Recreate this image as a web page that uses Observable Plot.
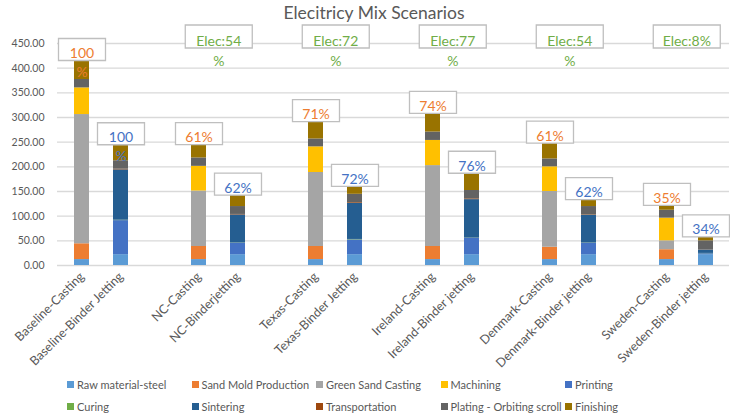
<!DOCTYPE html>
<html>
<head>
<meta charset="utf-8">
<script src="https://cdn.jsdelivr.net/npm/d3@7"></script>
<script src="https://cdn.jsdelivr.net/npm/@observablehq/plot@0.6"></script>
<style>
  body { margin: 0; background: #fff; font-family: Lato, sans-serif; }
  #chart { position: relative; width: 730px; height: 415px; }
  #title { position: absolute; top: 2px; left: 0; width: 748px; text-align: center;
           font-size: 17.5px; color: #595959; }
  .legend-item { position: absolute; display: flex; align-items: center; height: 14px;
                 margin-top: -7px; font-size: 11px; color: #595959; white-space: nowrap; }
  .legend-item .sw { width: 7px; height: 7px; margin-right: 3px; flex: none; }
</style>
</head>
<body>
<div id="chart"><div id="title">Elecitricy Mix Scenarios</div></div>
<script>
// Scenario pairs: a casting route and a binder-jetting route per electricity mix
const categories = [
  "Baseline-Casting", "Baseline-Binder Jetting",
  "NC-Casting", "NC-Binderjetting",
  "Texas-Casting", "Texas-Binder Jetting",
  "Ireland-Casting", "Ireland-Binder jetting",
  "Denmark-Casting", "Denmark-Binder jetting",
  "Sweden-Casting", "Sweden-Binder jetting"
];

const series = [
  "Raw material-steel", "Sand Mold Production", "Green Sand Casting", "Machining", "Printing",
  "Curing", "Sintering", "Transportation", "Plating - Orbiting scroll", "Finishing"
];
const seriesColors = [
  "#5B9BD5", "#ED7D31", "#A5A5A5", "#FFC000", "#4472C4",
  "#70AD47", "#255E91", "#9E480E", "#636363", "#997300"
];

// One value per category, in category order
const rawMaterialSteel   = [12, 22, 12, 22, 12, 22, 12, 22, 12, 22, 12, 22];
const sandMoldProduction = [32, 0, 26.5, 0, 26.5, 0, 26.5, 0, 25, 0, 20, 0];
const greenSandCasting   = [262, 0, 112.5, 0, 150, 0, 164, 0, 113, 0, 18, 0];
const machining          = [54, 0, 50, 0, 52, 0, 51, 0, 50, 0, 46, 0];
const printing           = [0, 69, 0, 23, 0, 30, 0, 33, 0, 23, 0, 2];
const curing             = [0, 0.8, 0, 0.5, 0, 0.8, 0, 0.5, 0, 0.5, 0, 0.5];
const sintering          = [0, 102, 0, 57, 0, 73, 0, 78, 0, 56, 0, 7];
const transportation     = [0, 1.5, 0, 1, 0, 1.5, 0, 1.5, 0, 1, 0, 0.5];
const platingScroll      = [17, 17, 17, 16, 16, 17, 17, 17, 16, 17, 16, 18];
const finishing          = [38.5, 32.5, 27, 23, 35, 16, 38, 35, 32, 14, 10, 8];

const seriesValues = [
  rawMaterialSteel, sandMoldProduction, greenSandCasting, machining, printing,
  curing, sintering, transportation, platingScroll, finishing
];

// Share of the baseline for each route, and the electricity-mix note per scenario
const castingShares = ["100%", "61%", "71%", "74%", "61%", "35%"];
const binderShares  = ["100%", "62%", "72%", "76%", "62%", "34%"];
const elecScenarios = ["NC", "Texas", "Ireland", "Denmark", "Sweden"];
const elecLabels    = ["Elec:54%", "Elec:72%", "Elec:77%", "Elec:54%", "Elec:8%"];

const yTicks = [0, 50, 100, 150, 200, 250, 300, 350, 400, 450];

// ---- derived tables ----
const pairCount = categories.length / 2;
const xDomain = [];
for (let p = 0; p < pairCount; p++) {
  xDomain.push(categories[2 * p], categories[2 * p + 1]);
  if (p < pairCount - 1) xDomain.push(`gap${p}`);
}

const rows = [];
series.forEach((s, j) => {
  seriesValues[j].forEach((v, i) => rows.push({category: categories[i], series: s, value: v}));
});

const totals = categories.map((c, i) => d3.sum(seriesValues, arr => arr[i]));

const callouts = categories.map((c, i) => ({
  category: c,
  total: totals[i],
  label: i % 2 === 0 ? castingShares[i / 2] : binderShares[(i - 1) / 2],
  kind: i % 2 === 0 ? "casting" : "binder"
}));

const elecNotes = elecScenarios.map((s, k) => ({
  category: categories[2 * (k + 1)],
  label: elecLabels[k]
}));

// ---- layout ----
const width = 730, height = 415;
const marginLeft = 57, marginRight = 1, marginTop = 43, marginBottom = 150;
const step = (width - marginLeft - marginRight) / xDomain.length;
const yMax = yTicks[yTicks.length - 1];

const labelFont = "14px Lato";
const pctBox = {w: 47, h: 22};
const elecBox = {w: 67, h: 23};
const boxPad = 7;

// Wrap the trailing "%" onto its own line when the text overflows its box
const measureCtx = document.createElement("canvas").getContext("2d");
measureCtx.font = labelFont;
function wrapLabel(text, boxWidth) {
  const inner = boxWidth - 2 * boxPad;
  if (measureCtx.measureText(text).width > inner && text.endsWith("%")) {
    return text.slice(0, -1) + "\n%";
  }
  return text;
}

const boxSymbol = (w, h) => ({draw(ctx) { ctx.rect(-w / 2, -h / 2, w, h); }});

const orange = "#ED7D31", blue = "#4472C4", green = "#70AD47";

const chart = Plot.plot({
  width, height, marginLeft, marginRight, marginTop, marginBottom,
  style: {fontFamily: "Lato, sans-serif", color: "#595959", background: "white"},
  x: {type: "band", domain: xDomain, paddingInner: 0.62, paddingOuter: 0.31, align: 0.5},
  y: {domain: [0, yMax]},
  color: {domain: series, range: seriesColors},
  marks: [
    Plot.gridY(yTicks, {stroke: "#D9D9D9", strokeOpacity: 1, strokeWidth: 1.3}),
    Plot.axisY({ticks: yTicks, tickSize: 0, tickPadding: 13, fontSize: 10.5,
                tickFormat: d3.format(".2f"), label: null}),
    Plot.axisX({tickRotate: -45, tickSize: 0, tickPadding: 9, fontSize: 12.5, label: null,
                tickFormat: d => (String(d).startsWith("gap") ? "" : d)}),
    Plot.barY(rows, {x: "category", y: "value", fill: "series"}),

    // callout boxes over each bar
    Plot.dot(callouts, {x: "category", y: "total", dy: -pctBox.h / 2,
                        symbol: boxSymbol(pctBox.w, pctBox.h),
                        fill: "white", stroke: "#BFBFBF", strokeWidth: 1.3}),
    Plot.text(callouts.filter(d => d.kind === "casting"), {
      x: "category", y: "total", text: d => wrapLabel(d.label, pctBox.w),
      lineAnchor: "top", lineHeight: 1.35, dy: -16, fontSize: 14, fill: orange}),
    Plot.text(callouts.filter(d => d.kind === "binder"), {
      x: "category", y: "total", text: d => wrapLabel(d.label, pctBox.w),
      lineAnchor: "top", lineHeight: 1.35, dy: -16, fontSize: 14, fill: blue}),

    // electricity-mix notes along the top gridline, centred over each pair
    Plot.dot(elecNotes, {x: "category", y: () => yMax, dx: step / 2, dy: -7,
                         symbol: boxSymbol(elecBox.w, elecBox.h),
                         fill: "white", stroke: "#BFBFBF", strokeWidth: 1.3}),
    Plot.text(elecNotes, {
      x: "category", y: () => yMax, dx: step / 2, dy: -12,
      text: d => wrapLabel(d.label, elecBox.w),
      lineAnchor: "top", lineHeight: 1.45, fontSize: 14, fill: green})
  ]
});

const root = document.getElementById("chart");
root.appendChild(chart);

// Legend: five columns, two rows
series.forEach((s, j) => {
  const col = j % 5, row = Math.floor(j / 5);
  const item = document.createElement("div");
  item.className = "legend-item";
  item.style.left = (67 + col * 124.5) + "px";
  item.style.top = (384 + row * 22.5) + "px";
  const sw = document.createElement("span");
  sw.className = "sw";
  sw.style.background = seriesColors[j];
  const label = document.createElement("span");
  label.textContent = s;
  item.append(sw, label);
  root.appendChild(item);
});
</script>
</body>
</html>
